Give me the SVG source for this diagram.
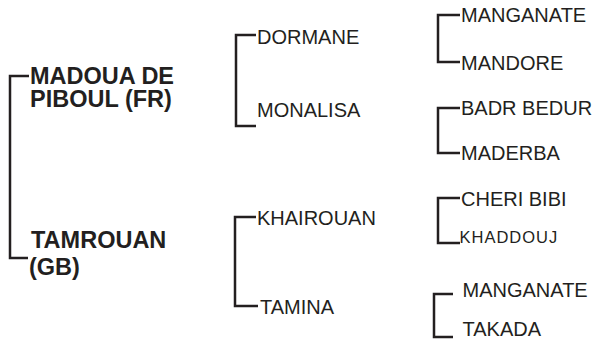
<svg xmlns="http://www.w3.org/2000/svg" width="607" height="341" viewBox="0 0 607 341">
<style>
.bg{fill:#ffffff}
.ln{fill:none;stroke:#231f20;stroke-width:2.5;stroke-linejoin:miter;stroke-linecap:butt}
.b{font-family:"Liberation Sans",Arial,sans-serif;font-weight:bold;font-size:23.5px;fill:#231f20}
.r{font-family:"Liberation Sans",Arial,sans-serif;font-size:20px;fill:#231f20}
.s{font-family:"Liberation Sans",Arial,sans-serif;font-size:16.5px;letter-spacing:1px;fill:#231f20}
</style>
<rect class="bg" x="0" y="0" width="607" height="341"/>
<g id="connectors">
<path class="ln" d="M29,76 H10 V258 H28"/>
<path class="ln" d="M256,35 H236 V126 H256"/>
<path class="ln" d="M256,217 H235 V306 H258"/>
<path class="ln" d="M460,15 H438 V62 H460"/>
<path class="ln" d="M460,108 H438 V153 H460"/>
<path class="ln" d="M460,198 H438 V243 H460"/>
<path class="ln" d="M453,294 H434 V337 H453"/>
</g>
<g id="madoua"><text class="b"><tspan x="30" y="84">MADOUA DE</tspan><tspan x="30" y="107">PIBOUL (FR)</tspan></text></g>
<g id="tamrouan"><text class="b"><tspan x="31" y="247.5">TAMROUAN</tspan><tspan x="29" y="275">(GB)</tspan></text></g>
<g id="dormane"><text class="r" x="257" y="43.5">DORMANE</text></g>
<g id="monalisa"><text class="r" x="257" y="116.5">MONALISA</text></g>
<g id="khairouan"><text class="r" x="257" y="225">KHAIROUAN</text></g>
<g id="tamina"><text class="r" x="260" y="314">TAMINA</text></g>
<g id="manganate1"><text class="r" x="461" y="21.5">MANGANATE</text></g>
<g id="mandore"><text class="r" x="461" y="70">MANDORE</text></g>
<g id="badr-bedur"><text class="r" x="461" y="115">BADR BEDUR</text></g>
<g id="maderba"><text class="r" x="461" y="160">MADERBA</text></g>
<g id="cheri-bibi"><text class="r" x="461" y="206">CHERI BIBI</text></g>
<g id="khaddouj"><text class="s" x="459.5" y="243.3">KHADDOUJ</text></g>
<g id="manganate2"><text class="r" x="462.5" y="296.5">MANGANATE</text></g>
<g id="takada"><text class="r" x="462.5" y="336">TAKADA</text></g>
</svg>
